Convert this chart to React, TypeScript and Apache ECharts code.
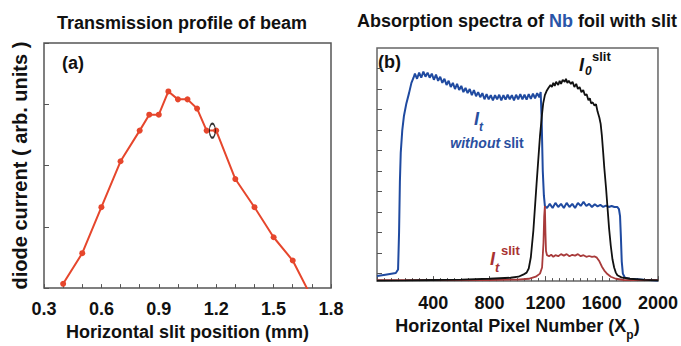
import React, { useEffect, useRef } from "react";
import * as echarts from "echarts";

const FONT = "'Liberation Sans', Arial, Helvetica, sans-serif";

// Panel (a): transmission profile of beam
const slitPos = [0.4, 0.5, 0.6, 0.7, 0.8, 0.85, 0.9, 0.95, 1.0, 1.05, 1.1, 1.15, 1.2, 1.3, 1.4, 1.5, 1.6, 1.7];
const diodeCurrent = [0.07, 0.57, 1.32, 2.07, 2.57, 2.83, 2.83, 3.21, 3.08, 3.08, 2.93, 2.57, 2.57, 1.78, 1.32, 0.83, 0.45, -0.16];
const markedPoint = [1.18, 2.57];
const xTicksA = { min: 0.3, max: 1.8, interval: 0.3 };

// Panel (b): absorption spectra (pixel number, intensity)
const blueX = [0, 60, 134, 150, 157, 163, 169, 180, 192, 209, 228, 245, 260,
  270, 285, 300, 315, 330, 345, 360, 375, 390, 405, 420, 435, 450, 465, 480, 495, 510, 525, 540, 555, 570, 585, 600, 615, 630, 645, 660, 675, 690, 705, 720, 735, 750, 765, 780, 795, 810, 825, 840, 855, 870, 885, 900, 915, 930, 945, 960, 975, 990, 1005, 1020, 1035, 1050, 1065, 1080, 1095, 1110, 1125, 1140, 1155, 1165,
  1172, 1180, 1188, 1195,
  1210, 1230, 1250, 1270, 1290, 1310, 1330, 1350, 1370, 1390, 1410, 1430, 1450, 1470, 1490, 1510, 1530, 1550, 1570, 1590, 1610, 1630, 1650, 1670, 1690, 1710, 1722,
  1730, 1736, 1742, 1750, 1765, 1800, 1900, 2000];
const blueY = [-0.12, -0.05, 0.03, 0.2, 2.0, 4.5, 5.9, 7.0, 7.7, 8.3, 8.8, 9.3, 9.55,
  9.75, 9.5, 9.8, 9.55, 9.85, 9.6, 9.8, 9.55, 9.75, 9.45, 9.7, 9.4, 9.6, 9.3, 9.5, 9.2, 9.4, 9.1, 9.3, 9.0, 9.25, 8.95, 9.15, 8.85, 9.05, 8.8, 9.0, 8.7, 8.95, 8.65, 8.85, 8.6, 8.8, 8.5, 8.75, 8.5, 8.7, 8.45, 8.7, 8.5, 8.72, 8.45, 8.7, 8.48, 8.72, 8.5, 8.7, 8.45, 8.72, 8.5, 8.75, 8.5, 8.72, 8.48, 8.75, 8.52, 8.78, 8.55, 8.8, 8.6, 8.85,
  7.5, 5.0, 3.8, 3.3,
  3.2, 3.4, 3.2, 3.45, 3.25, 3.4, 3.2, 3.45, 3.25, 3.4, 3.2, 3.45, 3.3, 3.5, 3.3, 3.4, 3.25, 3.38, 3.28, 3.35, 3.25, 3.32, 3.25, 3.3, 3.25, 3.25, 3.15,
  2.8, 1.8, 0.6, 0.0, -0.2, -0.25, -0.3, -0.33];

const blackX = [0, 200, 400, 600, 800, 950, 1007, 1040, 1065, 1080, 1095, 1113, 1136, 1160, 1175, 1183, 1195, 1207, 1220, 1235, 1245, 1255, 1265, 1275, 1290, 1300, 1310, 1322, 1336, 1345, 1355, 1365, 1380, 1392, 1405, 1418, 1430, 1442, 1455, 1468, 1480, 1492, 1505, 1515, 1524, 1535, 1548, 1559, 1570, 1583, 1592, 1601, 1610, 1618, 1630, 1641, 1652, 1664, 1676, 1688, 1700, 1711, 1740, 1800, 1900, 2000];
const blackY = [-0.34, -0.33, -0.31, -0.29, -0.25, -0.2, -0.15, -0.05, 0.05, 0.25, 0.8, 2.1, 4.4, 6.7, 7.8, 8.3, 8.7, 8.9, 9.05, 9.2, 9.1, 9.3, 9.15, 9.35, 9.2, 9.4, 9.25, 9.45, 9.35, 9.5, 9.3, 9.4, 9.25, 9.35, 9.1, 9.25, 9.0, 9.1, 8.85, 8.95, 8.7, 8.75, 8.45, 8.55, 8.3, 8.35, 8.2, 8.26, 7.9, 7.6, 7.3, 6.7, 5.9, 5.15, 4.2, 3.2, 2.2, 1.36, 0.7, 0.3, 0.05, -0.08, -0.18, -0.25, -0.3, -0.33];

const redX = [0, 400, 800, 1000, 1080, 1130, 1160, 1175, 1185, 1190, 1195, 1199, 1203, 1210, 1225, 1240, 1255, 1270, 1290, 1310, 1330, 1350, 1370, 1390, 1410, 1430, 1450, 1470, 1490, 1510, 1530, 1550, 1565, 1583, 1600, 1618, 1640, 1664, 1700, 1758, 1850, 2000];
const redY = [-0.32, -0.32, -0.31, -0.29, -0.25, -0.15, 0.0, 0.3, 1.5, 2.8, 3.3, 2.0, 1.1, 0.9, 0.85, 0.92, 0.82, 0.9, 0.85, 0.95, 0.88, 0.95, 0.85, 0.92, 0.88, 0.95, 0.85, 0.9, 0.82, 0.86, 0.82, 0.84, 0.78, 0.6, 0.35, 0.15, -0.02, -0.15, -0.25, -0.31, -0.32, -0.32];

const xTicksB = { min: 0, max: 2000, interval: 400 };
const yTicksB = [0, 1, 2, 3, 4, 5, 6, 7, 8, 9, 10];

const zip = (xs: number[], ys: number[]) => xs.map((x, i) => [x, ys[i]]);

const boldLabel = { fontFamily: FONT, fontWeight: "bold" as const, fontSize: 18, color: "#111" };

export default function App() {
  const ref = useRef<HTMLDivElement>(null);
  useEffect(() => {
    if (!ref.current) return;
    const chart = echarts.init(ref.current, undefined, { renderer: "svg" });
    const tickStyle = { color: "#555", width: 1 };
    const option: any = {
      animation: false,
      backgroundColor: "#fff",
      grid: [
        { left: 44, top: 43, width: 287, height: 255, show: true, borderColor: "#555", borderWidth: 1.5 },
        { left: 377, top: 48, width: 284, height: 250, show: true, borderColor: "#666", borderWidth: 1.5 },
      ],
      xAxis: [
        {
          type: "value", gridIndex: 0, ...xTicksA,
          axisLine: { show: false, onZero: false },
          axisTick: { inside: true, length: 4, lineStyle: tickStyle },
          minorTick: { show: true, splitNumber: 3, length: 4, lineStyle: tickStyle },
          splitLine: { show: false },
          axisLabel: { ...boldLabel, margin: 12, showMinLabel: true, showMaxLabel: true, formatter: (v: number) => v.toFixed(1) },
          name: "Horizontal slit position (mm)", nameLocation: "middle", nameGap: 31,
          nameTextStyle: { ...boldLabel },
        },
        {
          type: "value", gridIndex: 1, ...xTicksB,
          axisLine: { show: false, onZero: false },
          axisTick: { inside: true, length: 5, lineStyle: tickStyle },
          minorTick: { show: true, splitNumber: 8, length: 3, lineStyle: tickStyle },
          splitLine: { show: false },
          axisLabel: { ...boldLabel, margin: 13, showMaxLabel: true, formatter: (v: number) => (v === 0 ? "" : String(v)) },
          name: "{n|Horizontal Pixel Number (X}{s|p}{n|)}", nameLocation: "middle", nameGap: 33,
          nameTextStyle: {
            rich: {
              n: { ...boldLabel, verticalAlign: "top", lineHeight: 20 },
              s: { fontFamily: FONT, fontWeight: "bold", fontSize: 12, color: "#111", verticalAlign: "top", padding: [12, 0, 0, 0] },
            },
          },
        },
      ],
      yAxis: [
        {
          type: "value", gridIndex: 0, min: 0, max: 4, interval: 1,
          axisLine: { show: false, onZero: false },
          axisTick: { inside: true, length: 5, lineStyle: tickStyle },
          axisLabel: { show: false },
          splitLine: { show: false },
          name: "diode current ( arb. units )", nameLocation: "middle", nameGap: 14,
          nameTextStyle: { ...boldLabel, fontSize: 20 },
        },
        {
          type: "value", gridIndex: 1, min: -0.364, max: 11,
          axisLine: { show: false, onZero: false },
          axisTick: { inside: true, length: 5, lineStyle: tickStyle, customValues: yTicksB },
          axisLabel: { show: false },
          splitLine: { show: false },
        },
      ],
      series: [
        {
          type: "line", xAxisIndex: 0, yAxisIndex: 0, data: zip(slitPos, diodeCurrent),
          symbol: "circle", symbolSize: 6, clip: true,
          lineStyle: { color: "#e6462c", width: 2 }, itemStyle: { color: "#e6462c" },
        },
        {
          type: "scatter", xAxisIndex: 0, yAxisIndex: 0, data: [markedPoint],
          symbol: "circle", symbolSize: [6, 14], z: 5,
          itemStyle: { color: "rgba(0,0,0,0)", borderColor: "#000", borderWidth: 1.5 },
        },
        {
          type: "line", xAxisIndex: 1, yAxisIndex: 1, data: zip(blueX, blueY),
          symbol: "none", clip: true, lineStyle: { color: "#1f4aa0", width: 2 },
        },
        {
          type: "line", xAxisIndex: 1, yAxisIndex: 1, data: zip(redX, redY),
          symbol: "none", clip: true, lineStyle: { color: "#a83a3a", width: 1.8 },
        },
        {
          type: "line", xAxisIndex: 1, yAxisIndex: 1, data: zip(blackX, blackY),
          symbol: "none", clip: true, lineStyle: { color: "#111", width: 1.8 },
        },
      ],
      graphic: [
        { type: "text", x: 182, y: 23, style: { text: "Transmission profile of beam", font: `bold 18px ${FONT}`, fill: "#111", textAlign: "center", textVerticalAlign: "middle" } },
        {
          type: "text", x: 517, y: 21,
          style: {
            text: "{a|Absorption spectra of }{b|Nb}{a| foil with slit}",
            textAlign: "center", textVerticalAlign: "middle",
            rich: {
              a: { fontFamily: FONT, fontWeight: "bold", fontSize: 18, fill: "#111" },
              b: { fontFamily: FONT, fontWeight: "bold", fontSize: 18, fill: "#2a55a8" },
            },
          },
        },
        { type: "text", x: 62, y: 63, style: { text: "(a)", font: `bold 18px ${FONT}`, fill: "#111", textVerticalAlign: "middle" } },
        { type: "text", x: 378, y: 62, style: { text: "(b)", font: `bold 18px ${FONT}`, fill: "#111", textVerticalAlign: "middle" } },
        // I0 slit
        { type: "text", x: 579, y: 65, style: { text: "I", font: `italic bold 18px ${FONT}`, fill: "#111", textVerticalAlign: "middle" } },
        { type: "text", x: 585, y: 71, style: { text: "0", font: `italic bold 12px ${FONT}`, fill: "#111", textVerticalAlign: "middle" } },
        { type: "text", x: 592, y: 56, style: { text: "slit", font: `bold 13px ${FONT}`, fill: "#111", textVerticalAlign: "middle" } },
        // It without slit
        { type: "text", x: 474, y: 119, style: { text: "I", font: `italic bold 18px ${FONT}`, fill: "#2a4f9f", textVerticalAlign: "middle" } },
        { type: "text", x: 479, y: 127, style: { text: "t", font: `italic bold 12px ${FONT}`, fill: "#2a4f9f", textVerticalAlign: "middle" } },
        {
          type: "text", x: 487, y: 143,
          style: {
            text: "{i|without} {b|slit}", textAlign: "center", textVerticalAlign: "middle",
            rich: {
              i: { fontFamily: FONT, fontWeight: "bold", fontStyle: "italic", fontSize: 14, fill: "#2a4f9f" },
              b: { fontFamily: FONT, fontWeight: "bold", fontSize: 14, fill: "#2a4f9f" },
            },
          },
        },
        // It slit
        { type: "text", x: 490, y: 259, style: { text: "I", font: `italic bold 18px ${FONT}`, fill: "#a83232", textVerticalAlign: "middle" } },
        { type: "text", x: 495, y: 267, style: { text: "t", font: `italic bold 13px ${FONT}`, fill: "#a83232", textVerticalAlign: "middle" } },
        { type: "text", x: 501, y: 250, style: { text: "slit", font: `bold 13px ${FONT}`, fill: "#a83232", textVerticalAlign: "middle" } },
      ],
    };
    chart.setOption(option);
    return () => chart.dispose();
  }, []);
  return (
    <div
      ref={ref}
      style={{ position: "absolute", left: 0, top: 0, width: 681, height: 346, background: "#fff" }}
    />
  );
}
